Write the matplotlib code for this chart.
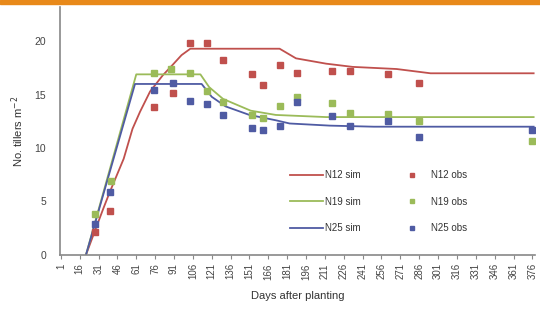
import numpy as np
import matplotlib.pyplot as plt
from matplotlib.patches import Rectangle

plt.rcParams['font.family'] = ['Liberation Sans', 'DejaVu Sans']

# SIMULATED TILLER NUMBERS (days after planting, tillers m-2)
n12_sim_day = [21, 27, 35, 40, 51, 58, 64, 72, 82, 90, 97, 104, 175, 188, 212, 233, 268, 295, 377]
n12_sim_val = [0, 1.9, 4.4, 5.9, 9.0, 11.8, 13.4, 15.3, 16.8, 17.8, 18.7, 19.3, 19.3, 18.4, 17.9, 17.6, 17.4, 17.0, 17.0]

n19_sim_day = [21, 61, 112, 119, 130, 152, 172, 212, 377]
n19_sim_val = [0, 16.9, 16.9, 15.7, 14.6, 13.5, 13.1, 12.9, 12.9]

n25_sim_day = [21, 60, 113, 121, 132, 151, 172, 183, 215, 250, 377]
n25_sim_val = [0, 16.0, 16.0, 14.8, 13.9, 13.1, 12.6, 12.3, 12.1, 12.0, 12.0]

# OBSERVED
n12_obs_day = [28, 40, 75, 90, 104, 117, 130, 153, 162, 175, 189, 217, 231, 261, 286]
n12_obs_val = [2.1, 4.1, 13.8, 15.2, 19.8, 19.8, 18.2, 16.9, 15.9, 17.8, 17.0, 17.2, 17.2, 16.9, 16.1]

n19_obs_day = [28, 41, 75, 89, 104, 117, 130, 153, 162, 175, 189, 217, 231, 261, 286, 376]
n19_obs_val = [3.8, 6.9, 17.0, 17.4, 17.0, 15.3, 14.3, 13.1, 12.8, 13.9, 14.8, 14.2, 13.3, 13.2, 12.5, 10.7]

n25_obs_day = [28, 40, 75, 90, 104, 117, 130, 153, 162, 175, 189, 217, 231, 261, 286, 376]
n25_obs_val = [2.9, 5.9, 15.4, 16.1, 14.4, 14.1, 13.1, 11.9, 11.7, 12.1, 14.3, 13.0, 12.1, 12.5, 11.0, 11.7]

red = '#c0504d'
green = '#9bbb59'
blue = '#4f5ba3'

fig = plt.figure(figsize=(5.4, 3.21), dpi=100)
fig.patches.append(Rectangle((0, 0.988), 1, 0.012, transform=fig.transFigure,
                             color='#e8891a', zorder=0))
ax = fig.add_axes([0.111, 0.206, 0.880, 0.772])

ax.plot(n12_sim_day, n12_sim_val, color=red, lw=1.3, label='N12 sim')
ax.plot(n19_sim_day, n19_sim_val, color=green, lw=1.3, label='N19 sim')
ax.plot(n25_sim_day, n25_sim_val, color=blue, lw=1.3, label='N25 sim')
ax.plot(n12_obs_day, n12_obs_val, 's', color=red, ms=4.3, ls='none', label='N12 obs')
ax.plot(n19_obs_day, n19_obs_val, 's', color=green, ms=4.3, ls='none', label='N19 obs')
ax.plot(n25_obs_day, n25_obs_val, 's', color=blue, ms=4.3, ls='none', label='N25 obs')

ax.set_xlim(0.3, 378.2)
ax.set_ylim(0, 23.2)
ax.set_xticks(np.arange(1, 377, 15))
ax.set_xticklabels([str(d) for d in range(1, 377, 15)], rotation=90, fontsize=7, color='#444444')
ax.set_yticks([0, 5, 10, 15, 20])
ax.tick_params(axis='y', labelsize=7.5, labelcolor='#444444', length=0, pad=10)
ax.tick_params(axis='x', length=3, color='#888888', pad=3)

for s in ['top', 'right']:
    ax.spines[s].set_visible(False)
for s in ['left', 'bottom']:
    ax.spines[s].set_color('#888888')
    ax.spines[s].set_linewidth(1.2)

ax.set_xlabel('Days after planting', fontsize=8, color='#333333', labelpad=8)
ax.set_ylabel('No. tillers m$^{-2}$', fontsize=8, color='#333333', labelpad=6)

leg = ax.legend(ncol=2, loc='center', bbox_to_anchor=(0.67, 0.214), frameon=False,
                fontsize=7, handlelength=3.4, handletextpad=0.25, columnspacing=3.5,
                labelspacing=1.7, markerscale=0.8)
for t in leg.get_texts():
    t.set_color('#333333')

fig.savefig('out.png', dpi=100)
